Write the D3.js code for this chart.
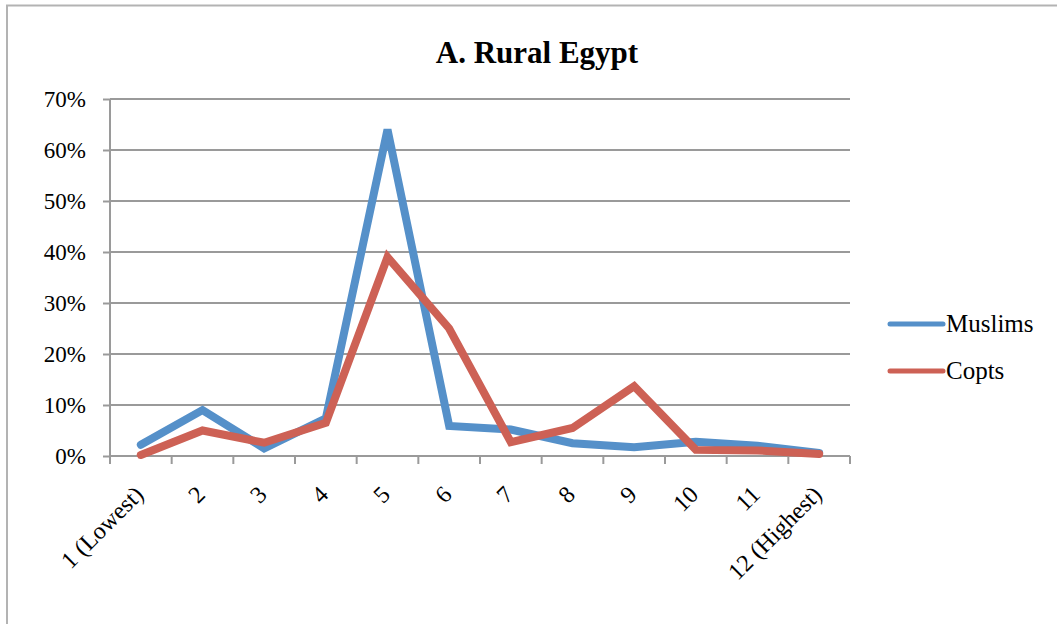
<!DOCTYPE html>
<html>
<head>
<meta charset="utf-8">
<script src="https://cdn.jsdelivr.net/npm/d3@7"></script>
<style>
    body { margin: 0; background: #fff; }
    svg { display: block; }
    .axis text { font-family: "Liberation Serif", "Times New Roman", serif; font-size: 23px; fill: #000; }
    .axis .xlabel { font-size: 24px; }
</style>
</head>
<body>
<div id="chart"></div>
<script>
// data
let categories = ["1 (Lowest)", "2", "3", "4", "5", "6", "7", "8", "9", "10", "11", "12 (Highest)"];
let muslims = [2.2, 9.0, 1.5, 7.4, 64.0, 5.9, 5.2, 2.5, 1.7, 2.8, 2.0, 0.6];
let copts = [0.2, 5.0, 2.6, 6.5, 39.0, 25.0, 2.7, 5.5, 13.7, 1.2, 1.1, 0.4];
let yTicks = [0, 10, 20, 30, 40, 50, 60, 70];
let seriesNames = ["Muslims", "Copts"];
let colors = {Muslims: "#5590c9", Copts: "#cd6155"};

let W = 1057, H = 624;
let margin = {top: 99, right: 207, bottom: 168, left: 110};
let width = W - margin.left - margin.right;
let height = H - margin.top - margin.bottom;

let svg = d3.select("#chart").append("svg")
    .attr("width", W)
    .attr("height", H);

// outer chart border (only top and left show in the picture)
svg.append("rect")
    .attr("x", 7)
    .attr("y", 5.5)
    .attr("width", W + 20)
    .attr("height", H + 20)
    .attr("fill", "none")
    .attr("stroke", "#b3b3b3")
    .attr("stroke-width", 2);

svg.append("text")
    .attr("x", 537)
    .attr("y", 63)
    .attr("text-anchor", "middle")
    .style("font-family", "'Liberation Serif', 'Times New Roman', serif")
    .style("font-weight", "bold")
    .style("font-size", "31px")
    .text("A. Rural Egypt");

let g = svg.append("g")
    .attr("transform", `translate(${margin.left}, ${margin.top})`);

let x = d3.scaleBand()
    .domain(categories)
    .range([0, width]);

let y = d3.scaleLinear()
    .domain([0, 70])
    .range([height, 0]);

// gridlines
g.selectAll(".grid")
    .data(yTicks.filter(d => d > 0))
    .enter()
    .append("line")
    .attr("class", "grid")
    .attr("x1", 0)
    .attr("x2", width)
    .attr("y1", d => y(d))
    .attr("y2", d => y(d))
    .attr("stroke", "#9a9a9a")
    .attr("stroke-width", 2);

// y axis
let yAxis = d3.axisLeft(y)
    .tickValues(yTicks)
    .tickFormat(d => d + "%")
    .tickSize(7)
    .tickPadding(17);

let yAxisGroup = g.append("g")
    .attr("class", "axis")
    .call(yAxis);

// x axis with ticks between categories
let xAxisGroup = g.append("g")
    .attr("class", "axis")
    .attr("transform", `translate(0, ${height})`);

xAxisGroup.append("line")
    .attr("x1", 0).attr("x2", width)
    .attr("stroke", "#9a9a9a").attr("stroke-width", 2);

let tickPos = d3.range(categories.length + 1).map(i => i * x.step());
xAxisGroup.selectAll(".xtick")
    .data(tickPos)
    .enter()
    .append("line")
    .attr("x1", d => d).attr("x2", d => d)
    .attr("y1", 0).attr("y2", 8)
    .attr("stroke", "#9a9a9a").attr("stroke-width", 2);

xAxisGroup.selectAll(".xlabel")
    .data(categories)
    .enter()
    .append("text")
    .attr("class", "xlabel")
    .attr("text-anchor", "end")
    .attr("transform", d => `translate(${x(d) + x.bandwidth() / 2 + 4}, 40) rotate(-45)`)
    .text(d => d);

yAxisGroup.selectAll("path").remove();
yAxisGroup.append("line")
    .attr("x1", 0).attr("x2", 0)
    .attr("y1", 0).attr("y2", height + 8)
    .attr("stroke", "#9a9a9a").attr("stroke-width", 2);
yAxisGroup.selectAll(".tick line")
    .attr("stroke", "#9a9a9a")
    .attr("stroke-width", 2);

// lines
let line = d3.line()
    .x((d, i) => x(categories[i]) + x.bandwidth() / 2)
    .y(d => y(d));

let seriesData = {Muslims: muslims, Copts: copts};

seriesNames.forEach(function(name) {
    g.append("path")
        .datum(seriesData[name])
        .attr("fill", "none")
        .attr("stroke", colors[name])
        .attr("stroke-width", 8)
        .attr("stroke-linejoin", "miter")
        .attr("stroke-linecap", "round")
        .attr("d", line);
});

// legend
let legend = svg.append("g")
    .attr("transform", "translate(890, 324)");

seriesNames.forEach(function(name, i) {
    legend.append("line")
        .attr("x1", 0).attr("x2", 53)
        .attr("y1", i * 47).attr("y2", i * 47)
        .attr("stroke", colors[name])
        .attr("stroke-width", 5)
        .attr("stroke-linecap", "round");
    legend.append("text")
        .attr("x", 56)
        .attr("y", i * 47 + 8)
        .style("font-family", "'Liberation Serif', 'Times New Roman', serif")
        .style("font-size", "25px")
        .text(name);
});
</script>
</body>
</html>
